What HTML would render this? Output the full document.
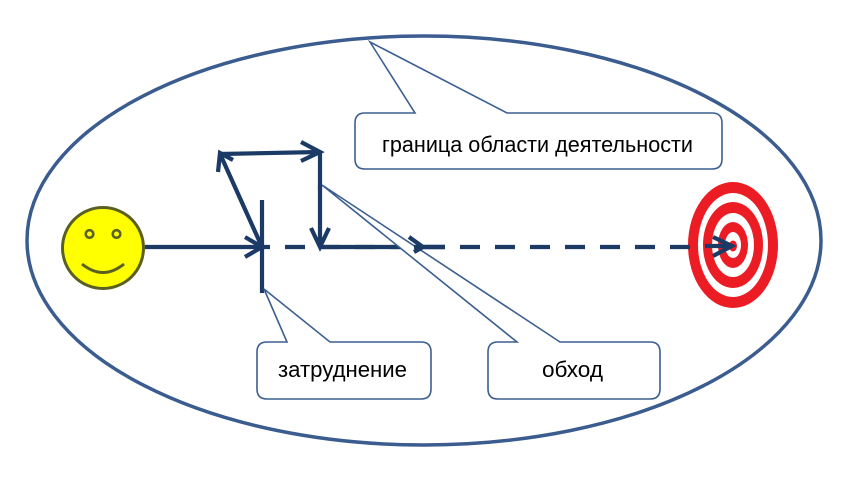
<!DOCTYPE html>
<html><head><meta charset="utf-8"><style>
html,body{margin:0;padding:0;background:#fff;}
svg{display:block;}
text{font-family:"Liberation Sans","DejaVu Sans",sans-serif;font-size:22px;fill:#000;}
</style></head><body>
<svg width="851" height="485" viewBox="0 0 851 485" xmlns="http://www.w3.org/2000/svg">
<ellipse cx="424" cy="240.5" rx="397" ry="204.5" fill="none" stroke="#3b5c8f" stroke-width="3.5"/>

<!-- smiley -->
<circle cx="103" cy="248" r="40.5" fill="#ffff00" stroke="#5a6020" stroke-width="3"/>
<circle cx="89.5" cy="234" r="3.8" fill="#ffff00" stroke="#5a6020" stroke-width="2.6"/>
<circle cx="116.5" cy="234" r="3.8" fill="#ffff00" stroke="#5a6020" stroke-width="2.6"/>
<path d="M82 264 Q103 281 124 264" fill="none" stroke="#5a6020" stroke-width="3"/>

<!-- target -->
<g fill="#ec1c24">
<ellipse cx="733" cy="245" rx="45" ry="63"/>
<ellipse cx="733" cy="245" rx="35" ry="52" fill="#fff"/>
<ellipse cx="733" cy="245" rx="30" ry="43"/>
<ellipse cx="733" cy="245" rx="21" ry="32" fill="#fff"/>
<ellipse cx="733" cy="245" rx="15" ry="23"/>
<ellipse cx="733" cy="245" rx="8" ry="13" fill="#fff"/>
<ellipse cx="733" cy="246" rx="4" ry="5.5"/>
</g>

<!-- navy lines -->
<g stroke="#1b3a66" stroke-width="4.2" fill="none" stroke-linecap="butt" stroke-linejoin="miter">
<line x1="145" y1="247" x2="261" y2="247"/>
<polyline points="245,237 262,247 245,257"/>
<line x1="262" y1="200" x2="262" y2="293"/>
<line x1="262" y1="247" x2="700" y2="247" stroke-dasharray="20 15" stroke-dashoffset="12"/>
<line x1="262" y1="247" x2="221" y2="156"/>
<polyline points="233,160 220,153 218,172"/>
<line x1="220" y1="154" x2="320" y2="152"/>
<polyline points="301,142 320,152 301,161"/>
<line x1="320" y1="152" x2="320" y2="246"/>
<polyline points="311,228 320,247 329,228"/>
<line x1="320" y1="247" x2="445" y2="247"/>
<line x1="705" y1="246" x2="731" y2="246"/>
<polyline points="713,237 732,246 713,256"/>
</g>

<!-- callouts -->
<g fill="#fff" stroke="#3c5f91" stroke-width="1.6" stroke-linejoin="miter">
<path d="M365 113 H415 L370 42 L507 113 H712 Q722 113 722 123 V159 Q722 169 712 169 H365 Q355 169 355 159 V123 Q355 113 365 113 Z"/>
<path d="M267 342 H287 L264 289 L330 342 H421 Q431 342 431 352 V389 Q431 399 421 399 H267 Q257 399 257 389 V352 Q257 342 267 342 Z"/>
<path d="M498 342 H517 L322 185 L560 342 H650 Q660 342 660 352 V389 Q660 399 650 399 H498 Q488 399 488 389 V352 Q488 342 498 342 Z"/>
</g>
<line x1="320" y1="185" x2="320" y2="190" stroke="#1b3a66" stroke-width="4.2"/>
<g stroke="#1b3a66" stroke-width="4.2" fill="none">
<line x1="414" y1="247" x2="445" y2="247"/>
<polyline points="409,237 423,247 414,252"/>
</g>

<text x="382" y="152" textLength="311" lengthAdjust="spacingAndGlyphs">граница области деятельности</text>
<text x="278" y="377" textLength="129" lengthAdjust="spacingAndGlyphs">затруднение</text>
<text x="542" y="377" textLength="61" lengthAdjust="spacingAndGlyphs">обход</text>
</svg>
</body></html>
